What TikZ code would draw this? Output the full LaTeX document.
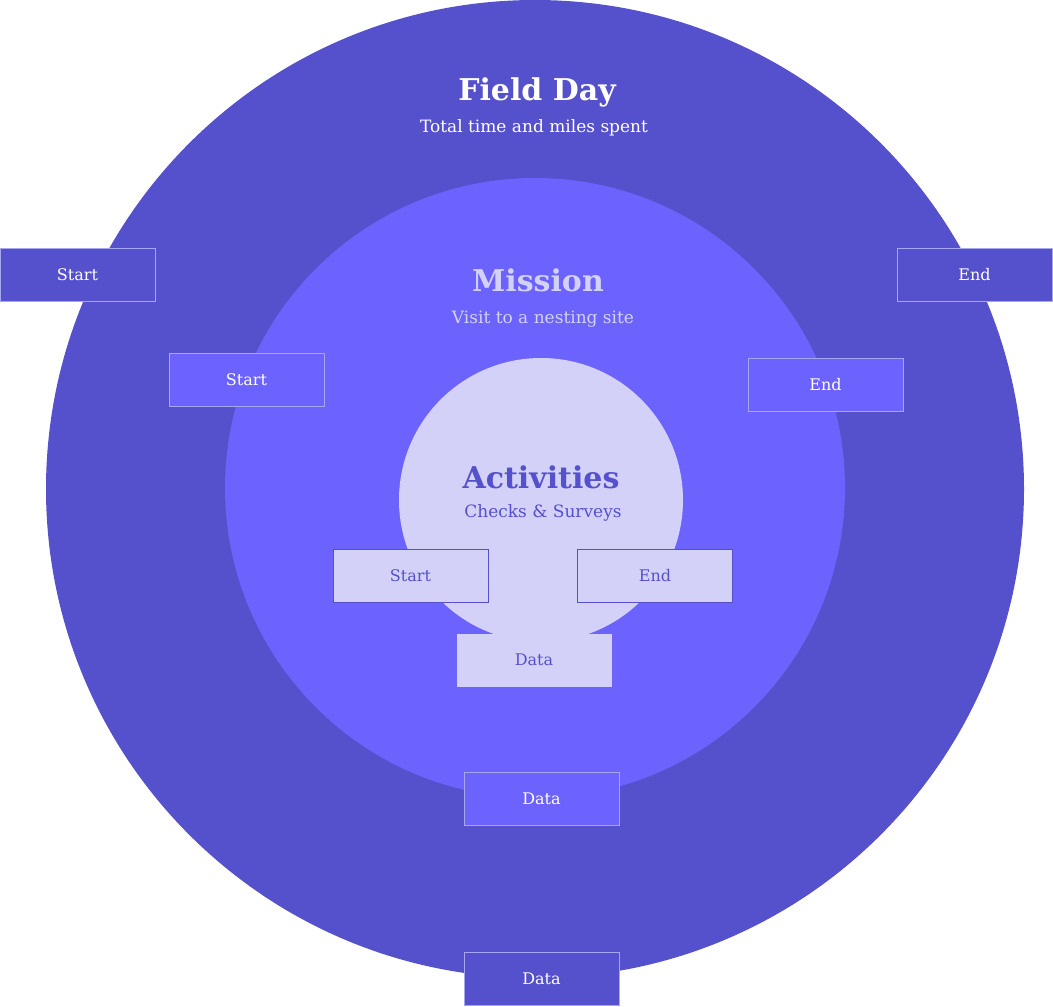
\documentclass[tikz,border=0pt]{standalone}
\usepackage{fontspec}
\setmainfont{DejaVu Serif}
\definecolor{outerc}{HTML}{5550CB}
\definecolor{midc}{HTML}{6C63FF}
\definecolor{innc}{HTML}{D3D1F8}
\definecolor{lineL}{HTML}{A9A5F0}
\begin{document}
\begin{tikzpicture}[x=1pt,y=-1pt,
 bx/.style={minimum width=155pt,minimum height=53pt,inner sep=0pt,font=\fontsize{16}{18}\selectfont,line width=0.8pt},
 ttl/.style={font=\bfseries\fontsize{30}{34}\selectfont},
 sub/.style={font=\fontsize{17}{20}\selectfont}]
\useasboundingbox (0,0) rectangle (1053,1007);
\fill[outerc] (535,489) circle (489);
\fill[midc] (535,488) circle (310);
\fill[innc] (541,500) circle (142);
\node[ttl,white] (t1) at (537,92) {Field Day};
\node[sub,white] (s1) at (534,128) {Total time and miles spent};
\node[ttl,innc] (t2) at (538,280) {Mission};
\node[sub,innc] (s2) at (543,319) {Visit to a nesting site};
\node[ttl,outerc] (t3) at (541,477) {Activities};
\node[sub,outerc] (s3) at (543,513) {Checks \& Surveys};
\node[bx,fill=outerc,draw=lineL,text=white] (so) at (77.5,274.5) {Start};
\node[bx,fill=outerc,draw=lineL,text=white] (eo) at (974.5,274.5) {End};
\node[bx,fill=midc,draw=lineL,text=white] (sm) at (246.5,379.5) {Start};
\node[bx,fill=midc,draw=lineL,text=white] (em) at (825.5,384.5) {End};
\node[bx,fill=innc,draw=outerc,text=outerc] (si) at (410.5,575.5) {Start};
\node[bx,fill=innc,draw=outerc,text=outerc] (ei) at (655,575.5) {End};
\node[bx,fill=innc,draw=none,text=outerc] (di) at (534,660) {Data};
\node[bx,fill=midc,draw=lineL,text=white] (dm) at (541.5,798.5) {Data};
\node[bx,fill=outerc,draw=lineL,text=white] (do) at (541.5,978.5) {Data};
\end{tikzpicture}
\end{document}
